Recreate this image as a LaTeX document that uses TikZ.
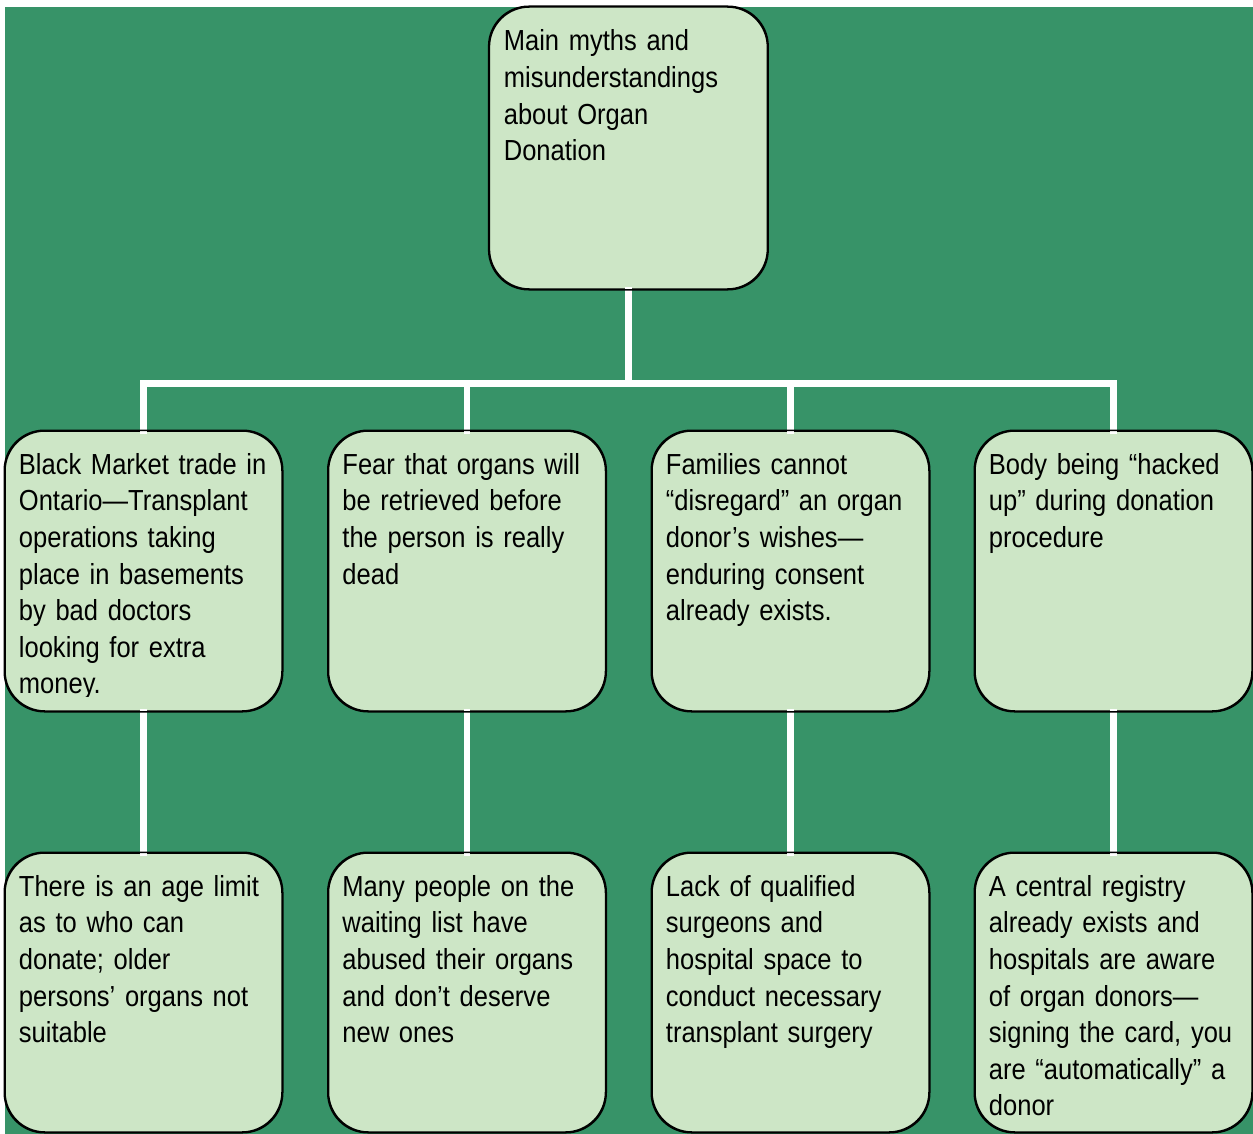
\documentclass[tikz,border=0pt]{standalone}
\usepackage{fontspec}
\setmainfont[FakeStretch=0.88]{Liberation Sans}
\usetikzlibrary{calc}
\definecolor{bggreen}{RGB}{55,147,104}
\definecolor{boxfill}{RGB}{205,230,198}
\tikzset{
  mythbox/.style={draw=black, line width=1.5pt, fill=boxfill, rounded corners=40pt,
    minimum width=277pt, minimum height=280pt, inner sep=0pt},
  txt/.style={anchor=base west, inner sep=0pt, text width=270pt, align=left,
    font=\fontsize{29pt}{36.6pt}\selectfont},
  conn/.style={draw=white, line width=6.5pt, line join=miter, line cap=rect}
}
\begin{document}
\begin{tikzpicture}[x=1pt,y=-1pt]
\useasboundingbox (0,0) rectangle (1253,1134);
\fill[bggreen] (5,7) rectangle (1253,1134);
% box positions
\path
  (628.4,148) coordinate (ptop)
  (143.5,571) coordinate (p1) (467,571) coordinate (p2)
  (790.5,571) coordinate (p3) (1113.5,571) coordinate (p4)
  (143.5,992.5) coordinate (q1) (467,992.5) coordinate (q2)
  (790.5,992.5) coordinate (q3) (1113.5,992.5) coordinate (q4);
\node[mythbox, minimum width=278pt, minimum height=282pt] (top) at (ptop) {};
\node[mythbox] (b1) at (p1) {};
\node[mythbox] (b2) at (p2) {};
\node[mythbox] (b3) at (p3) {};
\node[mythbox] (b4) at (p4) {};
\node[mythbox, minimum height=279pt] (c1) at (q1) {};
\node[mythbox, minimum height=279pt] (c2) at (q2) {};
\node[mythbox, minimum height=279pt] (c3) at (q3) {};
\node[mythbox, minimum height=279pt] (c4) at (q4) {};
% connectors
\coordinate (bar) at (628.4,383.5);
\path[conn] (top.south) -- (bar);
\path[conn] (b1.north) -- (b1.north |- bar) -- (b4.north |- bar) -- (b4.north);
\path[conn] (b2.north) -- (b2.north |- bar);
\path[conn] (b3.north) -- (b3.north |- bar);
\path[conn] (b1.south) -- (c1.north);
\path[conn] (b2.south) -- (c2.north);
\path[conn] (b3.south) -- (c3.north);
\path[conn] (b4.south) -- (c4.north);
% redraw borders over connector ends
\foreach \n in {top,b1,b2,b3,b4,c1,c2,c3,c4}{
  \draw[line width=1.5pt, rounded corners=40pt] (\n.south west) rectangle (\n.north east);
}
% texts
\node[txt] (ttop) at ($(top.north west)+(15,44.7)$)
  {Main myths and\\misunderstandings\\about Organ\\Donation};
\begin{scope}
\clip (b1.north west) rectangle ($(b1.south east)+(0,-15)$);
\node[txt] (t1) at ($(b1.north west)+(14.5,44)$)
  {Black Market trade in\\Ontario—Transplant\\operations taking\\place in basements\\by bad doctors\\looking for extra\\money.};
\end{scope}
\node[txt] (t2) at ($(b2.north west)+(14.5,44)$)
  {Fear that organs will\\be retrieved before\\the person is really\\dead};
\node[txt] (t3) at ($(b3.north west)+(14.5,44)$)
  {Families cannot\\“disregard” an organ\\donor’s wishes—\\enduring consent\\already exists.};
\node[txt] (t4) at ($(b4.north west)+(14.5,44)$)
  {Body being “hacked\\up” during donation\\procedure};
\node[txt] (u1) at ($(c1.north west)+(14.5,44)$)
  {There is an age limit\\as to who can\\donate; older\\persons’ organs not\\suitable};
\node[txt] (u2) at ($(c2.north west)+(14.5,44)$)
  {Many people on the\\waiting list have\\abused their organs\\and don’t deserve\\new ones};
\node[txt] (u3) at ($(c3.north west)+(14.5,44)$)
  {Lack of qualified\\surgeons and\\hospital space to\\conduct necessary\\transplant surgery};
\node[txt] (u4) at ($(c4.north west)+(14.5,44)$)
  {A central registry\\already exists and\\hospitals are aware\\of organ donors—\\signing the card, you\\are “automatically” a\\donor};
\end{tikzpicture}
\end{document}
